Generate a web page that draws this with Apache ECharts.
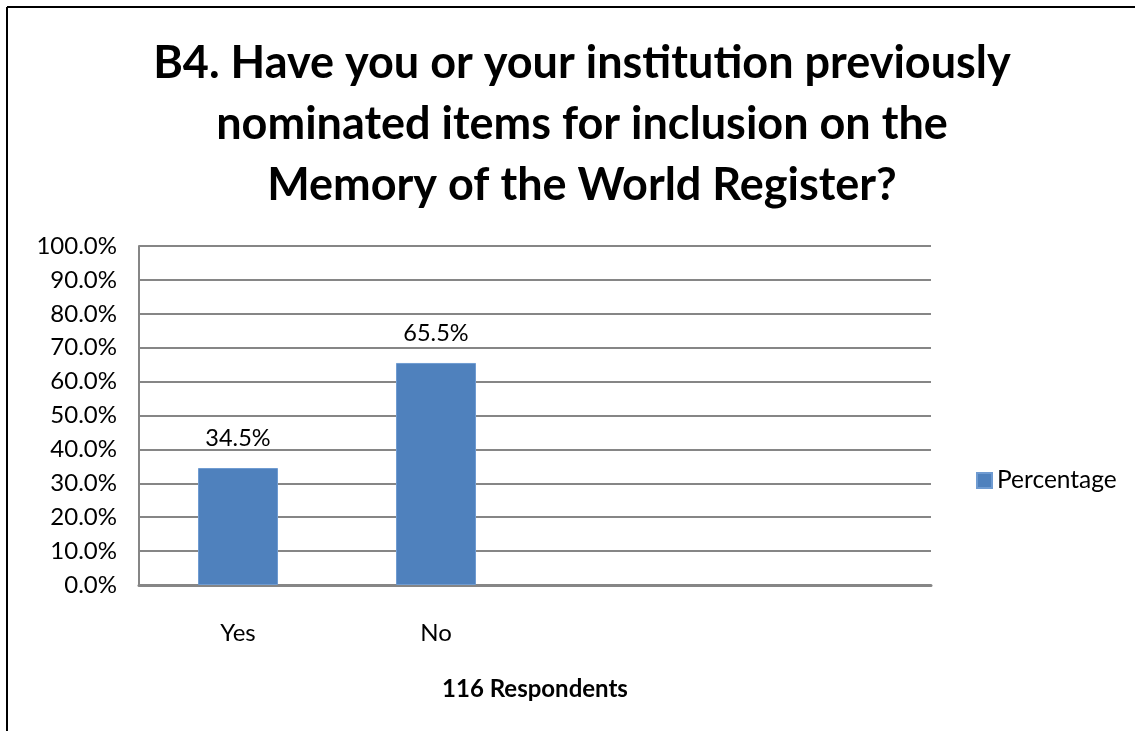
<!DOCTYPE html>
<html>
<head>
<meta charset="utf-8">
<script src="https://cdn.jsdelivr.net/npm/echarts@6/dist/echarts.min.js"></script>
<style>
html,body{margin:0;padding:0;background:#fff;}
#c{width:1135px;height:731px;}
</style>
</head>
<body>
<div id="c"></div>
<script>
const categories = ['Yes', 'No', '', ''];
const percentage = [0.345, 0.655];
const seriesName = 'Percentage';
const titleText = 'B4. Have you or your institution previously\nnominated items for inclusion on the\nMemory of the World Register?';
const xAxisTitle = '116 Respondents';

const chart = echarts.init(document.getElementById('c'), null, {renderer: 'canvas'});
const font = 'Lato, "Open Sans", sans-serif';
chart.setOption({
  animation: false,
  backgroundColor: '#fff',
  title: {
    text: titleText,
    left: 577, top: 28, textAlign: 'center',
    textStyle: {fontFamily: font, fontWeight: 'bold', fontSize: 45, lineHeight: 61, color: '#000'}
  },
  legend: {
    data: [seriesName],
    left: 971, top: 463,
    itemWidth: 15, itemHeight: 15, itemGap: 10,
    icon: 'rect',
    textStyle: {fontFamily: font, fontSize: 24.5, color: '#000'}
  },
  grid: {left: 139, right: 204, top: 246, bottom: 146, containLabel: false},
  xAxis: {
    type: 'category',
    data: categories,
    name: xAxisTitle,
    nameLocation: 'middle',
    nameGap: 92,
    nameTextStyle: {fontFamily: font, fontSize: 24, fontWeight: 'bold', color: '#000'},
    axisLine: {lineStyle: {color: '#868686', width: 3}},
    axisTick: {show: false},
    axisLabel: {fontFamily: font, fontSize: 24, color: '#000', margin: 36},
    splitLine: {show: false}
  },
  yAxis: {
    type: 'value',
    min: 0, max: 1, interval: 0.1,
    axisLine: {show: true, lineStyle: {color: '#868686', width: 2}},
    axisTick: {show: false},
    axisLabel: {fontFamily: font, fontSize: 24, color: '#000', margin: 22,
      formatter: v => (v * 100).toFixed(1) + '%'},
    splitLine: {lineStyle: {color: '#868686', width: 2}}
  },
  series: [{
    name: seriesName,
    type: 'bar',
    data: percentage,
    barWidth: 80,
    itemStyle: {color: '#4F81BD', borderColor: '#6f9bd1', borderWidth: 1},
    label: {show: true, position: 'top', distance: 18, fontFamily: font, fontSize: 23.5, color: '#000',
      formatter: p => (p.value * 100).toFixed(1) + '%'}
  }],
  graphic: [
    {type: 'line', shape: {x1: 7, y1: 7, x2: 1135, y2: 7}, style: {stroke: '#000', lineWidth: 2}},
    {type: 'line', shape: {x1: 7, y1: 7, x2: 7, y2: 731}, style: {stroke: '#000', lineWidth: 2}}
  ]
});
</script>
</body>
</html>
